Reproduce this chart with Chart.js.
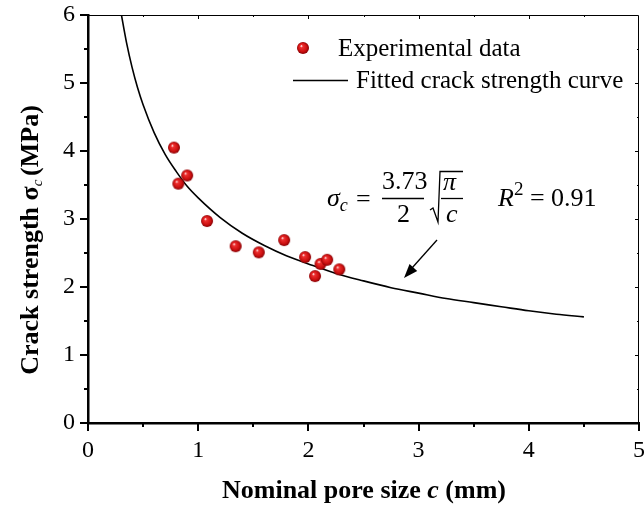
<!DOCTYPE html>
<html>
<head>
<meta charset="utf-8">
<script src="https://cdn.jsdelivr.net/npm/chart.js@4.4.0/dist/chart.umd.min.js"></script>
<style>
  html, body { margin: 0; padding: 0; background: #fff; }
  #wrap { width: 644px; height: 506px; }
</style>
</head>
<body>
<div id="wrap"><canvas id="crackChart"></canvas></div>
<script>
// measured points: nominal pore size (mm) vs crack strength (MPa)
const poreSize = [0.78, 0.82, 0.90, 1.08, 1.34, 1.55, 1.78, 1.97, 2.06, 2.11, 2.17, 2.28];
const crackStrength = [4.05, 3.52, 3.64, 2.97, 2.60, 2.51, 2.69, 2.44, 2.16, 2.34, 2.40, 2.26];

// fitted curve
const curveC = [0.30, 0.35, 0.40, 0.45, 0.50, 0.60, 0.70, 0.80, 0.90, 1.00, 1.20, 1.40, 1.60, 1.80, 2.00, 2.25, 2.50, 2.75, 3.00, 3.25, 3.50, 3.75, 4.00, 4.25, 4.50];
const curveSigma = [6.03, 5.59, 5.23, 4.93, 4.68, 4.27, 3.95, 3.70, 3.48, 3.31, 3.02, 2.79, 2.61, 2.46, 2.34, 2.20, 2.09, 1.99, 1.91, 1.83, 1.77, 1.71, 1.65, 1.60, 1.56];

const xTicks = [0, 1, 2, 3, 4, 5];
const yTicks = [0, 1, 2, 3, 4, 5, 6];

const serif = "'Liberation Serif', 'Times New Roman', serif";

// shaded red ball used as marker
function makeBall(r) {
  const c = document.createElement("canvas");
  c.width = c.height = r * 2 + 2;
  const g = c.getContext("2d");
  const cx = r + 1, cy = r + 1;
  const grad = g.createRadialGradient(cx - r * 0.3, cy - r * 0.35, r * 0.05, cx, cy, r);
  grad.addColorStop(0, "#fff0f0");
  grad.addColorStop(0.2, "#ee3030");
  grad.addColorStop(0.7, "#cc1010");
  grad.addColorStop(1, "#860004");
  g.fillStyle = grad;
  g.beginPath();
  g.arc(cx, cy, r, 0, Math.PI * 2);
  g.fill();
  return c;
}
const ball = makeBall(6);

// writes a list of [font, text, dy] pieces one after another
function runText(ctx, parts, x, y) {
  parts.forEach(p => {
    ctx.font = p[0];
    ctx.fillText(p[1], x, y + (p[2] || 0));
    x += ctx.measureText(p[1]).width;
  });
}
function runWidth(ctx, parts) {
  let w = 0;
  parts.forEach(p => { ctx.font = p[0]; w += ctx.measureText(p[1]).width; });
  return w;
}

// frame, minor ticks, titles, legend and equation
const decor = {
  id: "decor",
  afterDraw(chart) {
    const ctx = chart.ctx;
    const a = chart.chartArea;
    const xs = chart.scales.x, ys = chart.scales.y;
    ctx.save();
    ctx.strokeStyle = "#000";
    ctx.lineWidth = 1;
    ctx.beginPath();
    ctx.moveTo(a.left, a.top + 0.5); ctx.lineTo(a.right - 0.5, a.top + 0.5);
    ctx.lineTo(a.right - 0.5, a.bottom);
    ctx.stroke();

    // ticks
    ctx.lineWidth = 2;
    for (let v = 0; v <= 5.001; v += 0.5) {
      const px = Math.round(xs.getPixelForValue(v));
      const len = Number.isInteger(v) ? 8 : 4;
      ctx.beginPath(); ctx.moveTo(px, a.bottom); ctx.lineTo(px, a.bottom + len); ctx.stroke();
      if (v > 0 && v < 5) { ctx.lineWidth = 1; ctx.beginPath(); ctx.moveTo(px + 0.5, a.top); ctx.lineTo(px + 0.5, a.top + len / 2); ctx.stroke(); ctx.lineWidth = 2; }
    }
    for (let v = 0; v <= 6.001; v += 0.5) {
      const py = Math.round(ys.getPixelForValue(v));
      const len = Number.isInteger(v) ? 8 : 4;
      ctx.beginPath(); ctx.moveTo(a.left, py); ctx.lineTo(a.left - len, py); ctx.stroke();
      if (v > 0 && v < 6) { ctx.lineWidth = 1; ctx.beginPath(); ctx.moveTo(a.right, py + 0.5); ctx.lineTo(a.right - len / 2, py + 0.5); ctx.stroke(); ctx.lineWidth = 2; }
    }

    ctx.fillStyle = "#000";
    ctx.textBaseline = "alphabetic";

    // x title
    const xParts = [["bold 26px " + serif, "Nominal pore size "], ["italic bold 26px " + serif, "c"], ["bold 26px " + serif, " (mm)"]];
    runText(ctx, xParts, 364 - runWidth(ctx, xParts) / 2, 498);

    // y title
    ctx.save();
    ctx.translate(38, 0);
    ctx.rotate(-Math.PI / 2);
    const yParts = [["bold 26px " + serif, "Crack strength "], ["bold 26px " + serif, "\u03c3"], ["italic 15px " + serif, "c ", 4], ["bold 26px " + serif, "(MPa)"]];
    runText(ctx, yParts, -240 - runWidth(ctx, yParts) / 2, 0);
    ctx.restore();

    // legend
    ctx.drawImage(ball, 303 - 7, 48 - 7);
    ctx.font = "25px " + serif;
    ctx.fillText("Experimental data", 338, 56);
    ctx.lineWidth = 1.5;
    ctx.beginPath(); ctx.moveTo(293, 80.5); ctx.lineTo(348, 80.5); ctx.stroke();
    ctx.fillText("Fitted crack strength curve", 356, 88);

    // equation
    runText(ctx, [["italic 26px " + serif, "\u03c3"], ["italic 18px " + serif, "c", 5]], 327, 206);
    ctx.font = "26px " + serif;
    ctx.fillText("=", 356, 207);
    ctx.fillText("3.73", 382, 189);
    ctx.fillText("2", 397, 222);
    ctx.lineWidth = 1.3;
    ctx.beginPath(); ctx.moveTo(382, 198.5); ctx.lineTo(424, 198.5); ctx.stroke();
    // root sign
    ctx.beginPath();
    ctx.moveTo(430, 210); ctx.lineTo(433, 208); ctx.lineTo(438, 222); ctx.lineTo(440, 171.5); ctx.lineTo(463, 171.5);
    ctx.stroke();
    ctx.beginPath(); ctx.moveTo(441, 198.5); ctx.lineTo(463, 198.5); ctx.stroke();
    ctx.font = "italic 26px " + serif;
    ctx.fillText("\u03c0", 443, 190);
    ctx.fillText("c", 446, 222);
    runText(ctx, [["italic 26px " + serif, "R"], ["19px " + serif, "2", -11], ["26px " + serif, " = 0.91"]], 498, 206);

    // arrow
    ctx.lineWidth = 1.3;
    ctx.beginPath(); ctx.moveTo(437, 240); ctx.lineTo(412, 268); ctx.stroke();
    const ang = Math.atan2(277 - 240, 404 - 437);
    ctx.beginPath();
    ctx.moveTo(404, 278);
    ctx.lineTo(404 - 15 * Math.cos(ang - 0.35), 278 - 15 * Math.sin(ang - 0.35));
    ctx.lineTo(404 - 15 * Math.cos(ang + 0.35), 278 - 15 * Math.sin(ang + 0.35));
    ctx.closePath();
    ctx.fill();
    ctx.restore();
  }
};

const ctx = document.getElementById("crackChart").getContext("2d");
new Chart(ctx, {
  type: "scatter",
  data: {
    datasets: [
      {
        label: "Experimental data",
        data: poreSize.map((c, i) => ({ x: c, y: crackStrength[i] })),
        pointStyle: ball,
        order: 0,
      },
      {
        label: "Fitted crack strength curve",
        type: "line",
        data: curveC.map((c, i) => ({ x: c, y: curveSigma[i] })),
        borderColor: "#000",
        borderWidth: 1.6,
        pointRadius: 0,
        cubicInterpolationMode: "monotone",
        fill: false,
        order: 1,
      },
    ],
  },
  plugins: [decor],
  options: {
    responsive: true,
    maintainAspectRatio: false,
    animation: false,
    layout: { padding: { top: 15, right: 5, left: 0, bottom: 0 } },
    plugins: { legend: { display: false }, tooltip: { enabled: false } },
    clip: { left: 0, top: 0, right: 0, bottom: 0 },
    scales: {
      x: {
        type: "linear",
        min: 0,
        max: 5,
        afterBuildTicks: (s) => { s.ticks = xTicks.map(v => ({ value: v })); },
        afterFit: (s) => { s.height = 83; s.paddingLeft = 0; s.paddingRight = 0; },
        ticks: { color: "#000", padding: 13, maxRotation: 0, font: { family: serif, size: 24 } },
        grid: { display: false, drawTicks: false },
        border: { display: true, color: "#000", width: 2.5 },
      },
      y: {
        min: 0,
        max: 6,
        afterBuildTicks: (s) => { s.ticks = yTicks.map(v => ({ value: v })); },
        afterFit: (s) => { s.width = 88; s.paddingTop = 0; s.paddingBottom = 0; },
        ticks: { color: "#000", padding: 13, font: { family: serif, size: 24 } },
        grid: { display: false, drawTicks: false },
        border: { display: true, color: "#000", width: 2.5 },
      },
    },
  },
});
</script>
</body>
</html>
